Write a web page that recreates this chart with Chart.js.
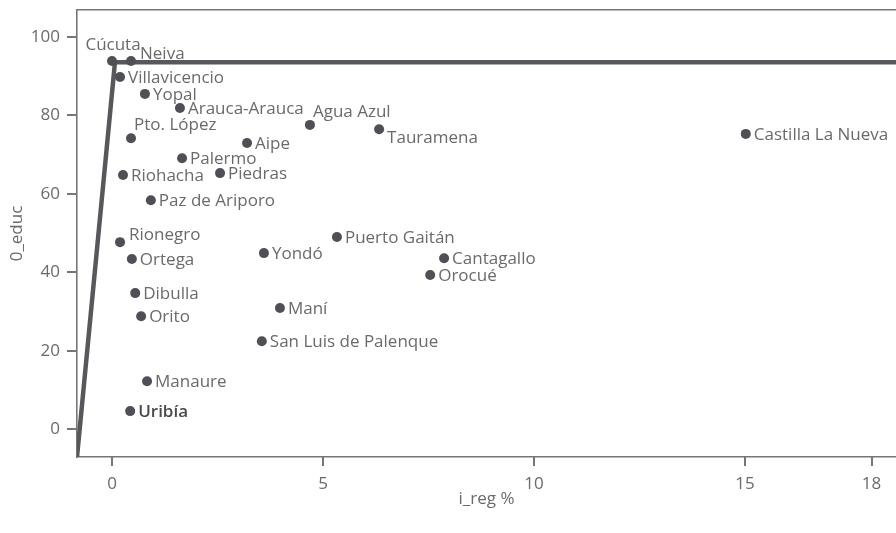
<!DOCTYPE html>
<html>
<head>
<meta charset="utf-8">
<script src="https://cdn.jsdelivr.net/npm/chart.js@4"></script>
<style>
  html, body { margin: 0; padding: 0; background: #fff; overflow: hidden; }
  canvas { display: block; }
</style>
</head>
<body>
<canvas id="chart" width="896" height="533"></canvas>
<script>
'use strict';

// ── Data ──────────────────────────────────────────────
const names = [
  'Cúcuta', 'Neiva', 'Villavicencio', 'Yopal', 'Arauca-Arauca', 'Pto. López',
  'Agua Azul', 'Tauramena', 'Aipe', 'Palermo', 'Riohacha', 'Piedras',
  'Paz de Ariporo', 'Rionegro', 'Ortega', 'Dibulla', 'Orito', 'Manaure',
  'Uribía', 'Castilla La Nueva', 'Yondó', 'Puerto Gaitán', 'Cantagallo',
  'Orocué', 'Maní', 'San Luis de Palenque',
];
const iReg = [
  0.0, 0.45, 0.19, 0.78, 1.61, 0.45,
  4.69, 6.33, 3.2, 1.66, 0.26, 2.56,
  0.92, 0.19, 0.47, 0.55, 0.69, 0.83,
  0.43, 15.02, 3.6, 5.33, 7.87,
  7.54, 3.98, 3.55,
];
const educ = [
  93.9, 93.9, 89.8, 85.5, 81.9, 74.2,
  77.6, 76.5, 73.0, 69.1, 64.8, 65.3,
  58.4, 47.7, 43.4, 34.7, 28.8, 12.2,
  4.6, 75.3, 44.9, 49.0, 43.6,
  39.3, 30.9, 22.4,
];
// frontier line
const frontX = [-0.83, 0.07, 18.6];
const frontY = [-7.1, 93.6, 93.6];

const xTicks = [0, 5, 10, 15, 18];
const yTicks = [0, 20, 40, 60, 80, 100];

// label placement (style only)
const labelPos = [
  't', 'rt', 'r', 'r', 'r', 'tr',
  'tr', 'br', 'r', 'r', 'r', 'r',
  'r', 'rt', 'r', 'r', 'r', 'r',
  'r', 'r', 'r', 'r', 'r',
  'r', 'r', 'r',
];

// ── Style ─────────────────────────────────────────────
const FONT   = '"Open Sans", "DejaVu Sans", sans-serif';
const TXT    = '#6a6a6a';
const AXIS   = '#767676';
const DOT    = '#4f4f56';
const LINE   = '#58585c';
const FSIZE  = 17;
const TICK_LEN = 9;

const OFFSETS = {
  r:  { dx: 8,  dy: 1,   align: 'left' },
  rt: { dx: 9,  dy: -7,  align: 'left' },
  t:  { dx: 1,  dy: -16, align: 'center' },
  tr: { dx: 3,  dy: -13, align: 'left' },
  br: { dx: 8,  dy: 9,   align: 'left' },
};

const pointLabels = {
  id: 'pointLabels',
  afterDatasetsDraw(chart) {
    const meta = chart.getDatasetMeta(1);
    const ctx = chart.ctx;
    ctx.save();
    ctx.textBaseline = 'middle';
    meta.data.forEach((pt, i) => {
      const o = OFFSETS[labelPos[i]] || OFFSETS.r;
      const bold = names[i] === 'Uribía';
      ctx.font = `${bold ? 600 : 400} ${FSIZE}px ${FONT}`;
      ctx.fillStyle = bold ? '#4a4a4a' : TXT;
      ctx.textAlign = o.align;
      ctx.fillText(names[i], pt.x + o.dx, pt.y + o.dy);
    });
    ctx.restore();
  },
};

// outward tick marks on the left and bottom axes
const tickMarks = {
  id: 'tickMarks',
  afterDraw(chart) {
    const { ctx, chartArea: a, scales: { x, y } } = chart;
    ctx.save();
    ctx.strokeStyle = AXIS;
    ctx.lineWidth = 2;
    ctx.beginPath();
    xTicks.forEach(v => {
      const px = Math.round(x.getPixelForValue(v));
      ctx.moveTo(px, a.bottom);
      ctx.lineTo(px, a.bottom + TICK_LEN);
    });
    yTicks.forEach(v => {
      const py = Math.round(y.getPixelForValue(v));
      ctx.moveTo(a.left, py);
      ctx.lineTo(a.left - TICK_LEN - 1, py);
    });
    ctx.stroke();
    ctx.restore();
  },
};

function noPad(s) {
  s.paddingLeft = 0; s.paddingRight = 0;
  s.paddingTop = 0;  s.paddingBottom = 0;
}

new Chart(document.getElementById('chart'), {
  type: 'scatter',
  data: {
    datasets: [
      {
        data: frontX.map((x, i) => ({ x, y: frontY[i] })),
        showLine: true,
        borderColor: LINE,
        borderWidth: 4.5,
        pointRadius: 0,
        fill: false,
        order: 2,
      },
      {
        data: iReg.map((x, i) => ({ x, y: educ[i] })),
        backgroundColor: DOT,
        borderColor: DOT,
        borderWidth: 0,
        pointRadius: 5,
        order: 1,
      },
    ],
  },
  options: {
    responsive: false,
    animation: false,
    layout: { padding: 0, autoPadding: false },
    plugins: {
      legend: { display: false },
      tooltip: { enabled: false },
    },
    scales: {
      x: {
        type: 'linear',
        position: 'bottom',
        min: -0.83,
        max: 18.58,
        afterBuildTicks: (s) => { s.ticks = xTicks.map(v => ({ value: v })); },
        afterFit: (s) => { s.height = 76; noPad(s); },
        grid: { display: false },
        border: { display: true, color: AXIS, width: 1.6 },
        ticks: { color: TXT, font: { family: FONT, size: FSIZE }, padding: 9, maxRotation: 0 },
        title: {
          display: true,
          text: 'i_reg %',
          color: TXT,
          font: { family: FONT, size: FSIZE },
          padding: { top: 0, bottom: 24 },
        },
      },
      xTop: {
        type: 'linear',
        position: 'top',
        min: -0.83,
        max: 18.58,
        afterFit: (s) => { s.height = 10; noPad(s); },
        grid: { display: false },
        ticks: { display: false },
        border: { display: true, color: AXIS, width: 1.6 },
      },
      y: {
        type: 'linear',
        position: 'left',
        min: -7.1,
        max: 106.9,
        afterBuildTicks: (s) => { s.ticks = yTicks.map(v => ({ value: v })); },
        afterFit: (s) => { s.width = 77; noPad(s); },
        grid: { display: false },
        border: { display: true, color: AXIS, width: 1.6 },
        ticks: { color: TXT, font: { family: FONT, size: FSIZE }, padding: 9 },
        title: {
          display: true,
          text: '0_educ',
          color: TXT,
          font: { family: FONT, size: FSIZE },
          padding: { top: 7, bottom: 0 },
        },
      },
    },
  },
  plugins: [pointLabels, tickMarks],
});
</script>
</body>
</html>
